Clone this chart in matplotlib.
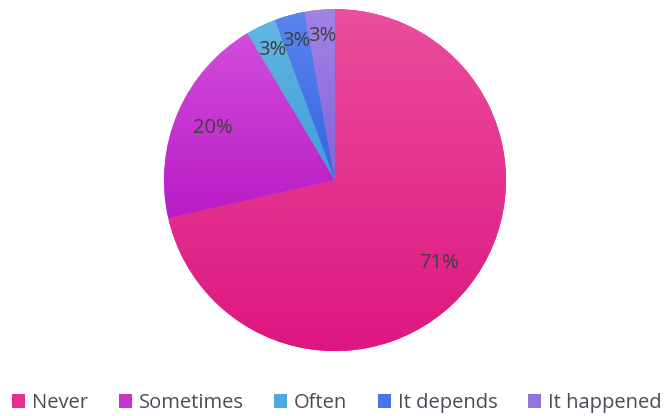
import matplotlib.pyplot as plt
import numpy as np
from matplotlib.colors import LinearSegmentedColormap

# datos (respuestas)
labels = ['Never', 'Sometimes', 'Often', 'It depends', 'It happened']
counts = [25, 7, 1, 1, 1]
pct_text = ['71%', '20%', '3%', '3%', '3%']

# colores degradado (arriba, abajo)
top_colors = ['#EA4E9C', '#D24CDB', '#64B6E2', '#5B86EE', '#A184E4']
bot_colors = ['#DE1680', '#B81CC6', '#3C9ED8', '#3463E2', '#8462D9']
mid_colors = ['#E4318E', '#C534D1', '#50AADD', '#4775E8', '#9373DE']

plt.rcParams['font.family'] = ['Open Sans', 'DejaVu Sans']

fig = plt.figure(figsize=(6.67, 4.16), dpi=100)
ax = fig.add_axes([0.2459, 0.156, 0.5127, 0.822])

wedges, _ = ax.pie(counts, startangle=90, counterclock=False, radius=1,
                   colors=mid_colors, wedgeprops=dict(edgecolor='none'))

# degradado vertical en cada sector
for w, c1, c2 in zip(wedges, top_colors, bot_colors):
    ext = w.get_path().get_extents()
    cmap = LinearSegmentedColormap.from_list('g', [c1, c2])
    grad = np.linspace(0, 1, 256).reshape(-1, 1)
    im = ax.imshow(grad, cmap=cmap, aspect='auto',
                   extent=[ext.x0, ext.x1, ext.y0, ext.y1], origin='upper', zorder=2)
    im.set_clip_path(w)

# etiquetas de porcentaje
total = sum(counts)
acc = 0
for i, c in enumerate(counts):
    mid = acc + c / 2
    acc += c
    ang = np.deg2rad(90 - 360 * mid / total)
    r = 0.78 if c / total > 0.1 else 0.845
    ax.text(r * np.cos(ang), r * np.sin(ang), pct_text[i], ha='center', va='center',
            fontsize=14.5, color='#404040', zorder=5)

ax.set_xlim(-1, 1)
ax.set_ylim(-1, 1)
ax.set_aspect('equal')
ax.axis('off')

fig.legend(wedges, labels, loc='center', bbox_to_anchor=(0.505, 0.031), ncol=5,
           frameon=False, fontsize=14.5, handlelength=0.65, handleheight=0.65,
           handletextpad=0.35, columnspacing=1.5, labelcolor='#4A4A58',
           borderaxespad=0, borderpad=0)

plt.savefig('out.png')
